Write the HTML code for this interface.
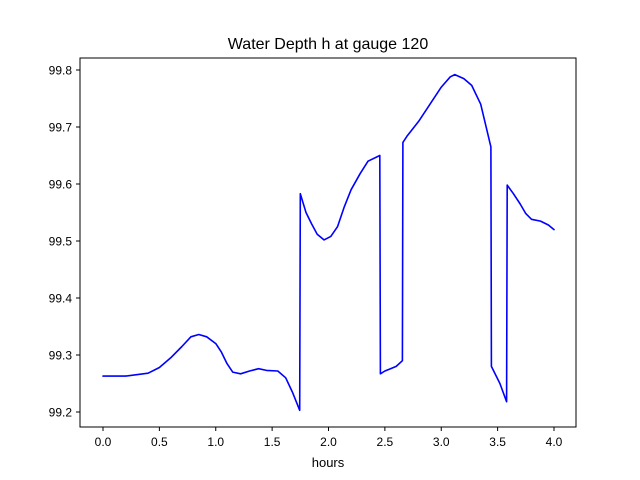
<!DOCTYPE html>
<html><head><meta charset="utf-8"><style>
body{margin:0;background:#fff;}
svg{display:block;font-family:"Liberation Sans","DejaVu Sans",sans-serif;}
</style></head><body>
<svg id="chart" width="640" height="480" viewBox="0 0 640 480">
<rect width="640" height="480" fill="#fff"/>
<text x="328" y="49" font-size="16" text-anchor="middle">Water Depth h at gauge 120</text>
<g id="axes"></g>
<path id="line" fill="none" stroke="#0000ff" stroke-width="1.6" stroke-linejoin="round" stroke-linecap="round"/>
<rect x="80" y="58" width="496" height="369" fill="none" stroke="#000" stroke-width="1"/>
<text x="328" y="467" font-size="13" text-anchor="middle">hours</text>
</svg>
<script>
const hours=[0,0.2,0.4,0.5,0.6,0.7,0.78,0.85,0.92,1.0,1.05,1.1,1.15,1.22,1.3,1.38,1.45,1.55,1.62,1.68,1.745,1.75,1.8,1.85,1.9,1.96,2.02,2.08,2.14,2.2,2.28,2.35,2.455,2.46,2.5,2.55,2.6,2.655,2.66,2.7,2.8,2.9,3.0,3.08,3.12,3.2,3.27,3.35,3.44,3.445,3.52,3.58,3.585,3.64,3.7,3.75,3.8,3.88,3.95,4.0];
const depth=[99.263,99.263,99.268,99.278,99.295,99.315,99.332,99.336,99.332,99.32,99.305,99.285,99.27,99.267,99.272,99.276,99.273,99.272,99.26,99.235,99.203,99.583,99.55,99.53,99.512,99.502,99.508,99.525,99.56,99.59,99.618,99.64,99.65,99.267,99.272,99.276,99.28,99.29,99.673,99.685,99.71,99.74,99.77,99.788,99.792,99.785,99.773,99.74,99.665,99.28,99.25,99.218,99.598,99.583,99.565,99.548,99.538,99.535,99.528,99.52];
const xTicks=[0,0.5,1,1.5,2,2.5,3,3.5,4];
const yTicks=[99.2,99.3,99.4,99.5,99.6,99.7,99.8];
const X=v=>103+v*112.75;
const Y=v=>412-(v-99.2)*570;
const ns="http://www.w3.org/2000/svg";
const ax=document.getElementById('axes');
xTicks.forEach(t=>{
  const l=document.createElementNS(ns,'line');
  l.setAttribute('x1',X(t));l.setAttribute('x2',X(t));l.setAttribute('y1',427);l.setAttribute('y2',431);l.setAttribute('stroke','#000');
  
  
  ax.appendChild(l);
  const tx=document.createElementNS(ns,'text');
  tx.setAttribute('x',X(t));tx.setAttribute('y',446);tx.setAttribute('font-size','12');tx.setAttribute('text-anchor','middle');
  tx.textContent=t.toFixed(1);
  
  
  ax.appendChild(tx);
});
yTicks.forEach(t=>{
  const l=document.createElementNS(ns,'line');
  l.setAttribute('x1',76);l.setAttribute('x2',80);l.setAttribute('y1',Y(t));l.setAttribute('y2',Y(t));l.setAttribute('stroke','#000');
  
  
  ax.appendChild(l);
  const tx=document.createElementNS(ns,'text');
  tx.setAttribute('x',72);tx.setAttribute('y',Y(t)+4.5);tx.setAttribute('font-size','12');tx.setAttribute('text-anchor','end');
  tx.textContent=t.toFixed(1);
  
  
  ax.appendChild(tx);
});
document.getElementById('line').setAttribute('d',hours.map((h,i)=>(i?'L':'M')+X(h).toFixed(1)+','+Y(depth[i]).toFixed(1)).join(''));
</script>
</body></html>
